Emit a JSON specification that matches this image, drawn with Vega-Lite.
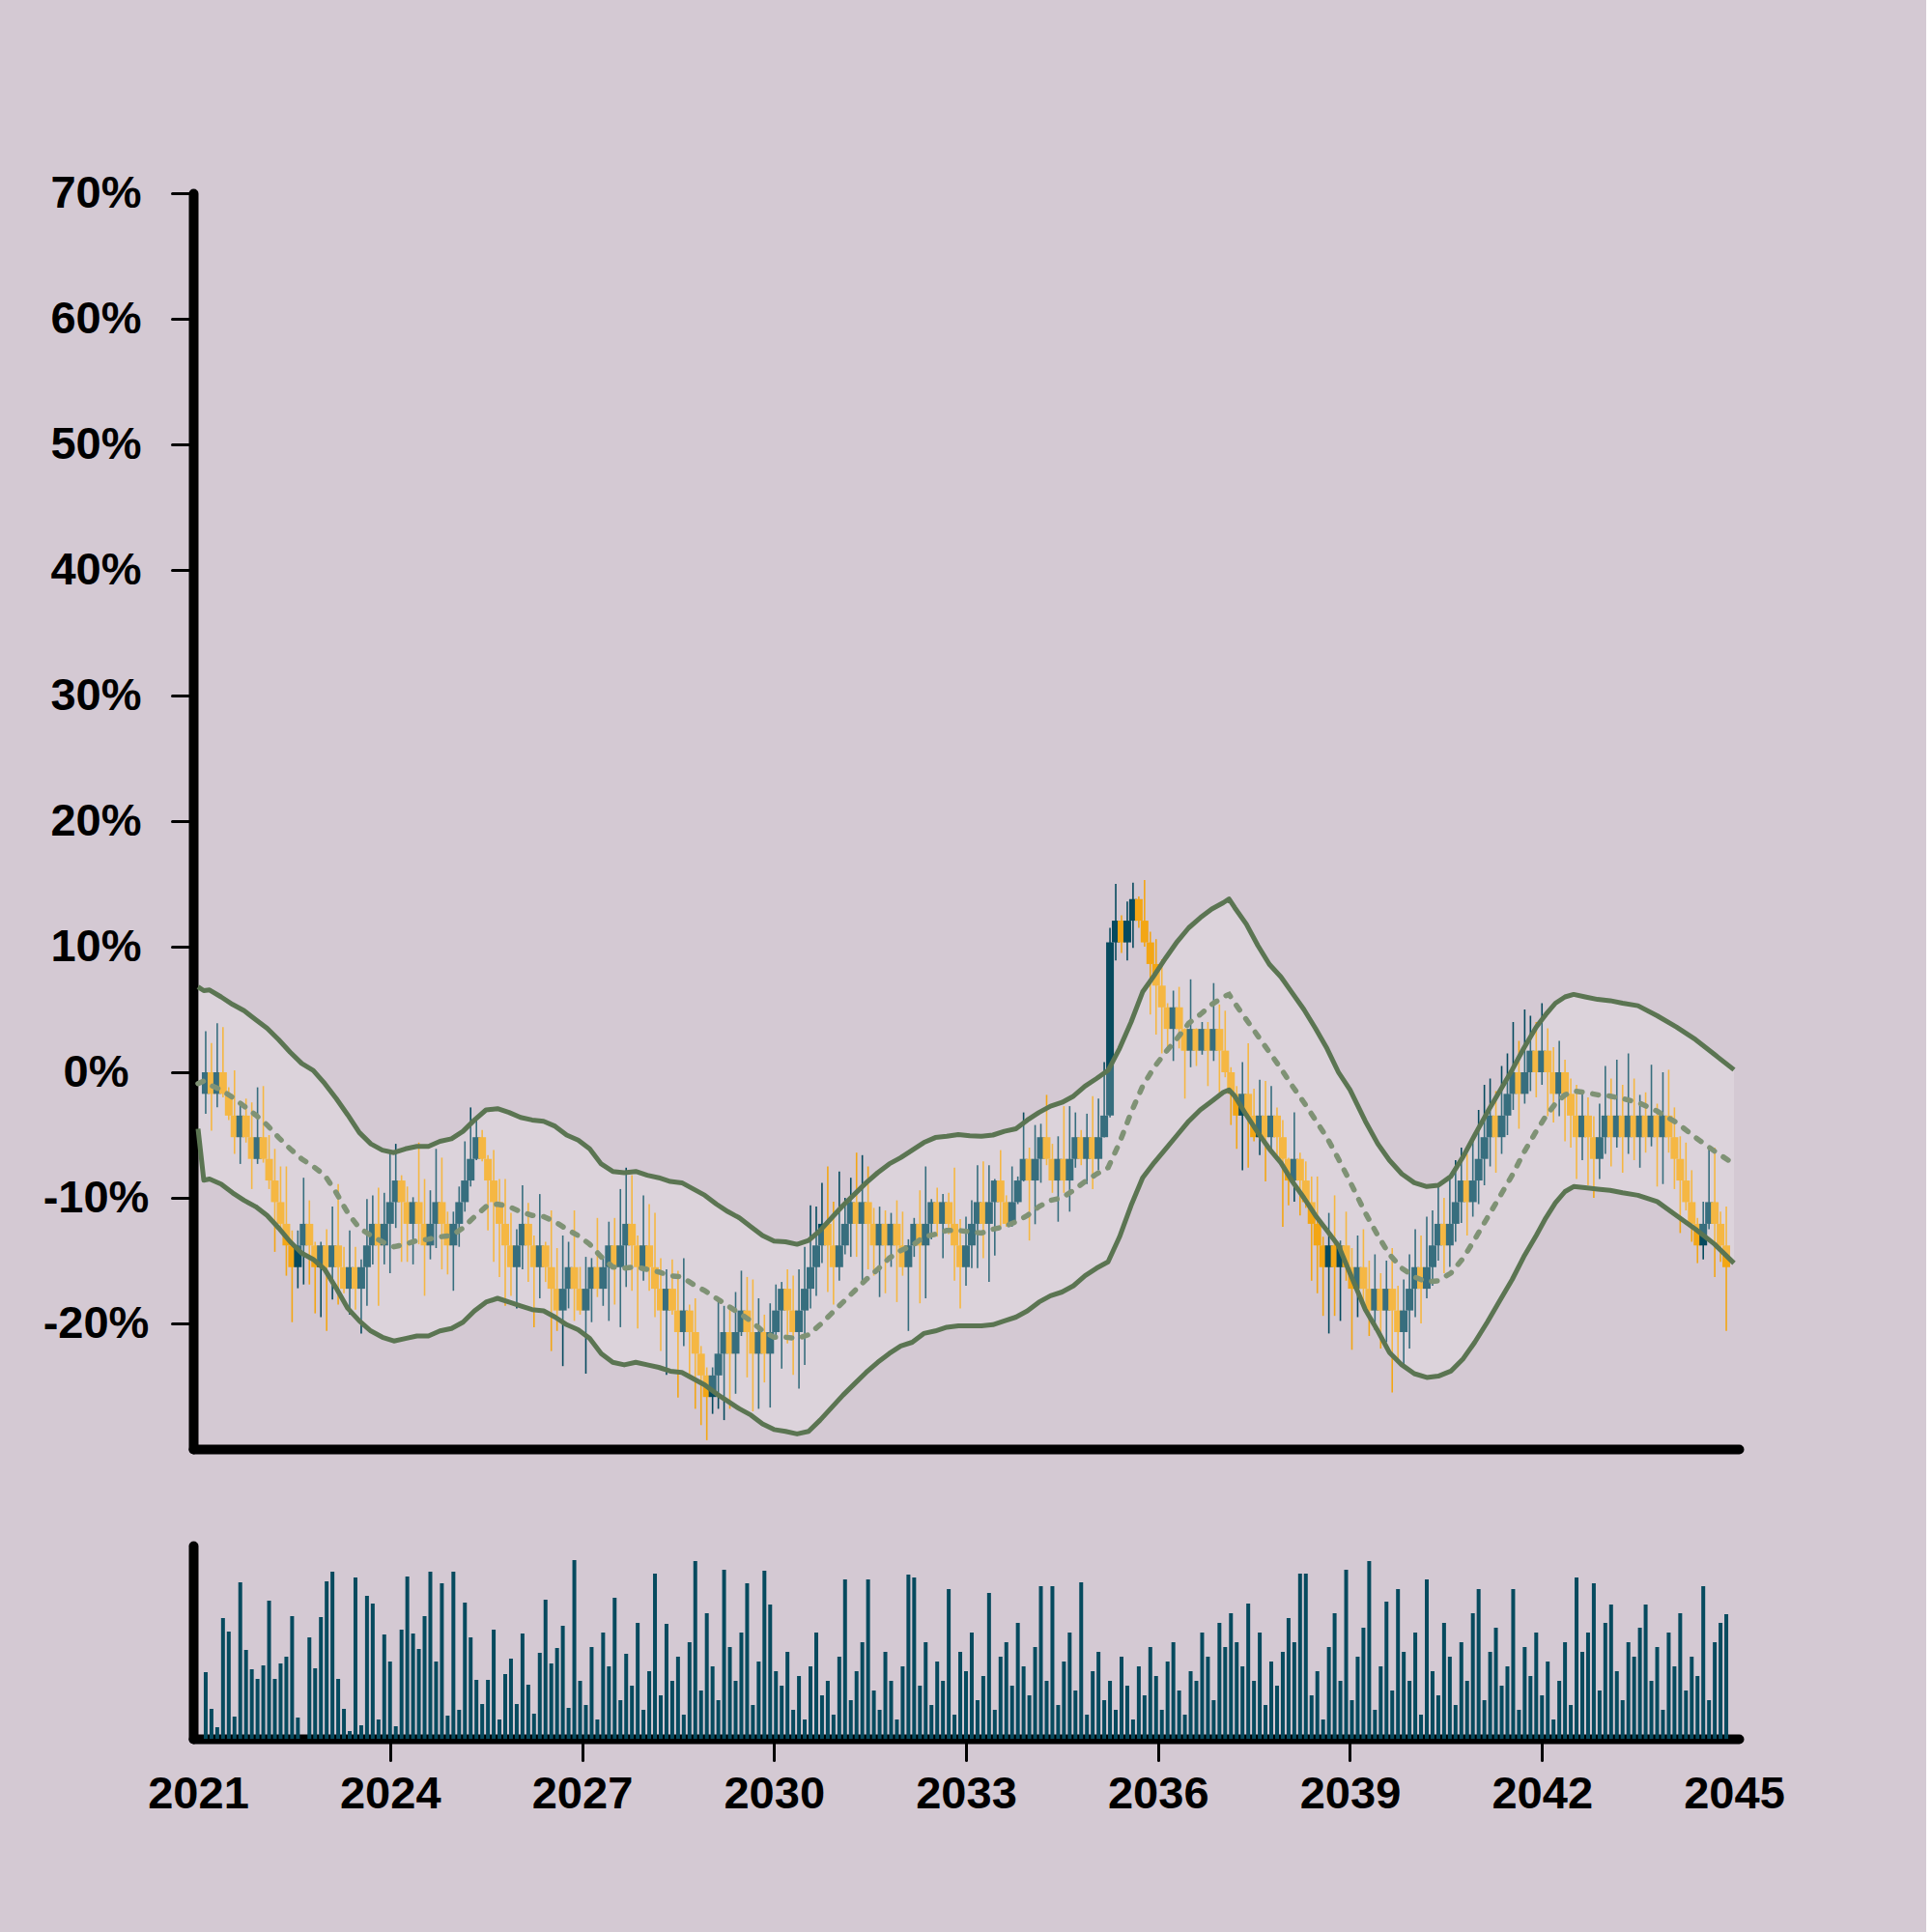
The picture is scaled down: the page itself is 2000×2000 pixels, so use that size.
{
"$schema": "https://vega.github.io/schema/vega-lite/v6.json",
"background": "#d4c9d3",
"padding": {"left": 44, "top": 176, "right": 146, "bottom": 120},
"bounds": "flush",
"spacing": 100,
"config": {
 "view": {"stroke": null},
 "axis": {"labelFont": "Liberation Sans", "labelFontSize": 47, "labelFontWeight": "bold", "labelColor": "#000000", "domainColor": "#000000", "domainWidth": 10, "domainCap": "round", "tickColor": "#000000", "tickWidth": 3, "tickSize": 22, "tickCap": "round", "grid": false, "title": null, "zindex": 1, "labelFlush": false}
},
"datasets": {
"ohlc": [
{"t":2021.12,"o":-1.72,"h":3.27,"l":-3.3,"c":0,"v":69},
{"t":2021.21,"o":0,"h":2.33,"l":-4.66,"c":-1.72,"v":31},
{"t":2021.30,"o":-1.72,"h":3.91,"l":-2.79,"c":0,"v":12},
{"t":2021.39,"o":0,"h":3.6,"l":-2.0,"c":-1.72,"v":125},
{"t":2021.48,"o":-1.72,"h":-1.2,"l":-3.8,"c":-3.45,"v":111},
{"t":2021.57,"o":-3.45,"h":0.15,"l":-6.5,"c":-5.17,"v":23},
{"t":2021.66,"o":-5.17,"h":-2.4,"l":-7.3,"c":-3.45,"v":162},
{"t":2021.75,"o":-3.45,"h":-2.1,"l":-5.6,"c":-5.17,"v":92},
{"t":2021.84,"o":-5.17,"h":-2.4,"l":-9.3,"c":-6.9,"v":72},
{"t":2021.93,"o":-6.9,"h":-1.2,"l":-7.3,"c":-5.17,"v":62},
{"t":2022.02,"o":-5.17,"h":-1.1,"l":-7.2,"c":-6.9,"v":76},
{"t":2022.11,"o":-6.9,"h":-5.0,"l":-9.3,"c":-8.62,"v":143},
{"t":2022.20,"o":-8.62,"h":-6.1,"l":-14.3,"c":-10.34,"v":62},
{"t":2022.29,"o":-10.34,"h":-7.5,"l":-12.5,"c":-12.07,"v":78},
{"t":2022.38,"o":-12.07,"h":-7.5,"l":-16.2,"c":-13.79,"v":85},
{"t":2022.47,"o":-13.79,"h":-12.6,"l":-19.9,"c":-15.52,"v":127},
{"t":2022.56,"o":-15.52,"h":-12.6,"l":-17.2,"c":-13.79,"v":22},
{"t":2022.65,"o":-13.79,"h":-8.4,"l":-16.9,"c":-12.07,"v":0},
{"t":2022.74,"o":-12.07,"h":-10.2,"l":-16.9,"c":-13.79,"v":105},
{"t":2022.83,"o":-13.79,"h":-13.5,"l":-19.2,"c":-15.52,"v":73},
{"t":2022.92,"o":-15.52,"h":-13.5,"l":-19.5,"c":-13.79,"v":126},
{"t":2023.01,"o":-13.79,"h":-12.5,"l":-20.6,"c":-15.52,"v":163},
{"t":2023.10,"o":-15.52,"h":-10.7,"l":-18.1,"c":-13.79,"v":173},
{"t":2023.19,"o":-13.79,"h":-8.9,"l":-18.5,"c":-15.52,"v":62},
{"t":2023.28,"o":-15.52,"h":-13.9,"l":-17.6,"c":-17.24,"v":31},
{"t":2023.37,"o":-17.24,"h":-12.6,"l":-19.3,"c":-15.52,"v":8},
{"t":2023.46,"o":-15.52,"h":-13.9,"l":-18.9,"c":-17.24,"v":167},
{"t":2023.55,"o":-17.24,"h":-14.9,"l":-20.8,"c":-15.52,"v":14},
{"t":2023.64,"o":-15.52,"h":-10.1,"l":-18.6,"c":-13.79,"v":148},
{"t":2023.73,"o":-13.79,"h":-9.8,"l":-15.3,"c":-12.07,"v":140},
{"t":2023.82,"o":-12.07,"h":-9.2,"l":-18.6,"c":-13.79,"v":20},
{"t":2023.91,"o":-13.79,"h":-9.6,"l":-15.3,"c":-12.07,"v":108},
{"t":2024.00,"o":-12.07,"h":-6.4,"l":-16.0,"c":-10.34,"v":80},
{"t":2024.09,"o":-10.34,"h":-5.7,"l":-12.4,"c":-8.62,"v":13},
{"t":2024.18,"o":-8.62,"h":-8.2,"l":-15.1,"c":-10.34,"v":113},
{"t":2024.27,"o":-10.34,"h":-9.1,"l":-15.1,"c":-12.07,"v":168},
{"t":2024.36,"o":-12.07,"h":-9.95,"l":-15.3,"c":-10.34,"v":109},
{"t":2024.45,"o":-10.34,"h":-5.6,"l":-13.7,"c":-12.07,"v":93},
{"t":2024.54,"o":-12.07,"h":-8.5,"l":-17.8,"c":-13.79,"v":127},
{"t":2024.63,"o":-13.79,"h":-9.4,"l":-14.9,"c":-12.07,"v":173},
{"t":2024.72,"o":-12.07,"h":-6.1,"l":-14.0,"c":-10.34,"v":80},
{"t":2024.81,"o":-10.34,"h":-6.8,"l":-15.7,"c":-12.07,"v":161},
{"t":2024.90,"o":-12.07,"h":-11.1,"l":-16.1,"c":-13.79,"v":24},
{"t":2024.99,"o":-13.79,"h":-11.1,"l":-17.4,"c":-12.07,"v":173},
{"t":2025.08,"o":-12.07,"h":-9.1,"l":-13.9,"c":-10.34,"v":30},
{"t":2025.17,"o":-10.34,"h":-5.5,"l":-11.1,"c":-8.62,"v":141},
{"t":2025.26,"o":-8.62,"h":-2.8,"l":-9.1,"c":-6.9,"v":105},
{"t":2025.35,"o":-6.9,"h":-3.7,"l":-7.0,"c":-5.17,"v":61},
{"t":2025.44,"o":-5.17,"h":-4.6,"l":-7.1,"c":-6.9,"v":36},
{"t":2025.53,"o":-6.9,"h":-6.6,"l":-12.6,"c":-8.62,"v":61},
{"t":2025.62,"o":-8.62,"h":-6.2,"l":-15.1,"c":-10.34,"v":113},
{"t":2025.71,"o":-10.34,"h":-8.5,"l":-16.3,"c":-12.07,"v":20},
{"t":2025.80,"o":-12.07,"h":-8.5,"l":-18.6,"c":-13.79,"v":67},
{"t":2025.89,"o":-13.79,"h":-11.2,"l":-17.8,"c":-15.52,"v":83},
{"t":2025.98,"o":-15.52,"h":-12.5,"l":-18.8,"c":-13.79,"v":36},
{"t":2026.07,"o":-13.79,"h":-9.0,"l":-15.7,"c":-12.07,"v":109},
{"t":2026.16,"o":-12.07,"h":-10.4,"l":-16.7,"c":-13.79,"v":56},
{"t":2026.25,"o":-13.79,"h":-13.0,"l":-20.3,"c":-15.52,"v":26},
{"t":2026.34,"o":-15.52,"h":-9.7,"l":-18.0,"c":-13.79,"v":89},
{"t":2026.43,"o":-13.79,"h":-13.5,"l":-16.7,"c":-15.52,"v":144},
{"t":2026.52,"o":-15.52,"h":-11.0,"l":-22.2,"c":-17.24,"v":78},
{"t":2026.61,"o":-17.24,"h":-14.0,"l":-20.6,"c":-18.97,"v":94},
{"t":2026.70,"o":-18.97,"h":-13.0,"l":-23.4,"c":-17.24,"v":117},
{"t":2026.79,"o":-17.24,"h":-13.5,"l":-18.8,"c":-15.52,"v":32},
{"t":2026.88,"o":-15.52,"h":-11.0,"l":-19.8,"c":-17.24,"v":185},
{"t":2026.97,"o":-17.24,"h":-15.5,"l":-19.3,"c":-18.97,"v":60},
{"t":2027.06,"o":-18.97,"h":-14.7,"l":-24.0,"c":-17.24,"v":35},
{"t":2027.15,"o":-17.24,"h":-14.8,"l":-19.9,"c":-15.52,"v":95},
{"t":2027.24,"o":-15.52,"h":-11.6,"l":-17.9,"c":-17.24,"v":20},
{"t":2027.33,"o":-17.24,"h":-14.7,"l":-18.6,"c":-15.52,"v":110},
{"t":2027.42,"o":-15.52,"h":-11.9,"l":-19.8,"c":-13.79,"v":75},
{"t":2027.51,"o":-13.79,"h":-11.6,"l":-18.5,"c":-15.52,"v":146},
{"t":2027.60,"o":-15.52,"h":-9.3,"l":-20.3,"c":-13.79,"v":40},
{"t":2027.69,"o":-13.79,"h":-7.6,"l":-17.1,"c":-12.07,"v":88},
{"t":2027.78,"o":-12.07,"h":-8.2,"l":-17.4,"c":-13.79,"v":55},
{"t":2027.87,"o":-13.79,"h":-13.0,"l":-20.4,"c":-15.52,"v":120},
{"t":2027.96,"o":-15.52,"h":-9.8,"l":-16.6,"c":-13.79,"v":30},
{"t":2028.05,"o":-13.79,"h":-10.5,"l":-17.4,"c":-15.52,"v":70},
{"t":2028.14,"o":-15.52,"h":-11.2,"l":-19.5,"c":-17.24,"v":171},
{"t":2028.23,"o":-17.24,"h":-14.8,"l":-22.2,"c":-18.97,"v":45},
{"t":2028.32,"o":-18.97,"h":-15.7,"l":-24.1,"c":-17.24,"v":119},
{"t":2028.41,"o":-17.24,"h":-14.9,"l":-19.3,"c":-18.97,"v":60},
{"t":2028.50,"o":-18.97,"h":-15.8,"l":-25.9,"c":-20.69,"v":85},
{"t":2028.59,"o":-20.69,"h":-14.8,"l":-21.8,"c":-18.97,"v":25},
{"t":2028.68,"o":-18.97,"h":-18.5,"l":-24.4,"c":-20.69,"v":100},
{"t":2028.77,"o":-20.69,"h":-18.0,"l":-26.8,"c":-22.41,"v":184},
{"t":2028.86,"o":-22.41,"h":-21.8,"l":-28.1,"c":-24.14,"v":50},
{"t":2028.95,"o":-24.14,"h":-23.5,"l":-29.3,"c":-25.86,"v":130},
{"t":2029.04,"o":-25.86,"h":-23.5,"l":-27.2,"c":-24.14,"v":75},
{"t":2029.13,"o":-24.14,"h":-18.3,"l":-26.8,"c":-22.41,"v":40},
{"t":2029.22,"o":-22.41,"h":-18.6,"l":-27.7,"c":-20.69,"v":175},
{"t":2029.31,"o":-20.69,"h":-18.8,"l":-26.8,"c":-22.41,"v":95},
{"t":2029.40,"o":-22.41,"h":-17.5,"l":-25.6,"c":-20.69,"v":60},
{"t":2029.49,"o":-20.69,"h":-15.8,"l":-21.0,"c":-18.97,"v":110},
{"t":2029.58,"o":-18.97,"h":-16.3,"l":-24.3,"c":-20.69,"v":161},
{"t":2029.67,"o":-20.69,"h":-16.5,"l":-27.0,"c":-22.41,"v":35},
{"t":2029.76,"o":-22.41,"h":-18.0,"l":-26.8,"c":-20.69,"v":80},
{"t":2029.85,"o":-20.69,"h":-19.3,"l":-24.7,"c":-22.41,"v":174},
{"t":2029.94,"o":-22.41,"h":-18.4,"l":-26.7,"c":-20.69,"v":139},
{"t":2030.03,"o":-20.69,"h":-16.9,"l":-21.0,"c":-18.97,"v":70},
{"t":2030.12,"o":-18.97,"h":-16.7,"l":-23.6,"c":-17.24,"v":55},
{"t":2030.21,"o":-17.24,"h":-15.7,"l":-21.6,"c":-18.97,"v":90},
{"t":2030.30,"o":-18.97,"h":-16.2,"l":-24.1,"c":-20.69,"v":30},
{"t":2030.39,"o":-20.69,"h":-15.7,"l":-25.2,"c":-18.97,"v":65},
{"t":2030.48,"o":-18.97,"h":-13.9,"l":-23.3,"c":-17.24,"v":20},
{"t":2030.57,"o":-17.24,"h":-10.6,"l":-18.8,"c":-15.52,"v":75},
{"t":2030.66,"o":-15.52,"h":-10.7,"l":-17.8,"c":-13.79,"v":110},
{"t":2030.75,"o":-13.79,"h":-8.8,"l":-15.2,"c":-12.07,"v":45},
{"t":2030.84,"o":-12.07,"h":-7.5,"l":-17.5,"c":-13.79,"v":60},
{"t":2030.93,"o":-13.79,"h":-10.3,"l":-18.5,"c":-15.52,"v":25},
{"t":2031.02,"o":-15.52,"h":-7.9,"l":-16.6,"c":-13.79,"v":85},
{"t":2031.11,"o":-13.79,"h":-10.0,"l":-14.5,"c":-12.07,"v":165},
{"t":2031.20,"o":-12.07,"h":-8.4,"l":-14.7,"c":-10.34,"v":40},
{"t":2031.29,"o":-10.34,"h":-6.4,"l":-14.7,"c":-12.07,"v":70},
{"t":2031.38,"o":-12.07,"h":-6.6,"l":-16.9,"c":-10.34,"v":100},
{"t":2031.47,"o":-10.34,"h":-7.5,"l":-15.7,"c":-12.07,"v":165},
{"t":2031.56,"o":-12.07,"h":-10.8,"l":-16.2,"c":-13.79,"v":50},
{"t":2031.65,"o":-13.79,"h":-10.7,"l":-17.9,"c":-12.07,"v":30},
{"t":2031.74,"o":-12.07,"h":-11.0,"l":-17.6,"c":-13.79,"v":90},
{"t":2031.83,"o":-13.79,"h":-11.2,"l":-15.5,"c":-12.07,"v":60},
{"t":2031.92,"o":-12.07,"h":-10.2,"l":-18.3,"c":-13.79,"v":20},
{"t":2032.01,"o":-13.79,"h":-11.1,"l":-16.2,"c":-15.52,"v":75},
{"t":2032.10,"o":-15.52,"h":-13.3,"l":-20.6,"c":-13.79,"v":170},
{"t":2032.19,"o":-13.79,"h":-11.6,"l":-14.7,"c":-12.07,"v":167},
{"t":2032.28,"o":-12.07,"h":-9.4,"l":-18.4,"c":-13.79,"v":55},
{"t":2032.37,"o":-13.79,"h":-7.5,"l":-18.0,"c":-12.07,"v":100},
{"t":2032.46,"o":-12.07,"h":-10.1,"l":-13.3,"c":-10.34,"v":35},
{"t":2032.55,"o":-10.34,"h":-9.2,"l":-13.1,"c":-12.07,"v":80},
{"t":2032.64,"o":-12.07,"h":-9.7,"l":-14.8,"c":-10.34,"v":60},
{"t":2032.73,"o":-10.34,"h":-9.6,"l":-12.9,"c":-12.07,"v":155},
{"t":2032.82,"o":-12.07,"h":-7.6,"l":-16.6,"c":-13.79,"v":25},
{"t":2032.91,"o":-13.79,"h":-11.7,"l":-18.8,"c":-15.52,"v":90},
{"t":2033.00,"o":-15.52,"h":-11.5,"l":-17.0,"c":-13.79,"v":70},
{"t":2033.09,"o":-13.79,"h":-10.2,"l":-15.6,"c":-12.07,"v":110},
{"t":2033.18,"o":-12.07,"h":-7.4,"l":-15.6,"c":-10.34,"v":40},
{"t":2033.27,"o":-10.34,"h":-7.1,"l":-14.8,"c":-12.07,"v":65},
{"t":2033.36,"o":-12.07,"h":-7.4,"l":-16.7,"c":-10.34,"v":151},
{"t":2033.45,"o":-10.34,"h":-8.5,"l":-14.6,"c":-8.62,"v":30},
{"t":2033.54,"o":-8.62,"h":-6.2,"l":-12.3,"c":-10.34,"v":85},
{"t":2033.63,"o":-10.34,"h":-9.8,"l":-12.3,"c":-12.07,"v":100},
{"t":2033.72,"o":-12.07,"h":-7.5,"l":-12.3,"c":-10.34,"v":55},
{"t":2033.81,"o":-10.34,"h":-8.3,"l":-10.5,"c":-8.62,"v":120},
{"t":2033.90,"o":-8.62,"h":-3.2,"l":-8.7,"c":-6.9,"v":75},
{"t":2033.99,"o":-6.9,"h":-6.0,"l":-13.4,"c":-8.62,"v":45},
{"t":2034.08,"o":-8.62,"h":-4.2,"l":-12.1,"c":-6.9,"v":95},
{"t":2034.17,"o":-6.9,"h":-4.1,"l":-8.8,"c":-5.17,"v":158},
{"t":2034.26,"o":-5.17,"h":-1.8,"l":-7.4,"c":-6.9,"v":60},
{"t":2034.35,"o":-6.9,"h":-5.7,"l":-9.6,"c":-8.62,"v":158},
{"t":2034.44,"o":-8.62,"h":-5.1,"l":-11.9,"c":-6.9,"v":35},
{"t":2034.53,"o":-6.9,"h":-2.7,"l":-9.6,"c":-8.62,"v":80},
{"t":2034.62,"o":-8.62,"h":-2.7,"l":-11.1,"c":-6.9,"v":110},
{"t":2034.71,"o":-6.9,"h":-3.2,"l":-7.6,"c":-5.17,"v":50},
{"t":2034.80,"o":-5.17,"h":-4.6,"l":-7.4,"c":-6.9,"v":162},
{"t":2034.89,"o":-6.9,"h":-3.3,"l":-8.9,"c":-5.17,"v":25},
{"t":2034.98,"o":-5.17,"h":-1.9,"l":-9.3,"c":-6.9,"v":70},
{"t":2035.07,"o":-6.9,"h":-2.1,"l":-7.8,"c":-5.17,"v":90},
{"t":2035.16,"o":-5.17,"h":0.8,"l":-5.2,"c":-3.45,"v":40},
{"t":2035.25,"o":-3.45,"h":11.5,"l":-3.6,"c":10.34,"v":60},
{"t":2035.34,"o":10.34,"h":15.0,"l":8.9,"c":12.07,"v":30},
{"t":2035.43,"o":12.07,"h":12.5,"l":9.5,"c":10.34,"v":85},
{"t":2035.52,"o":10.34,"h":13.6,"l":8.9,"c":12.07,"v":55},
{"t":2035.61,"o":12.07,"h":15.1,"l":9.9,"c":13.79,"v":20},
{"t":2035.70,"o":13.79,"h":14.0,"l":11.5,"c":12.07,"v":75},
{"t":2035.79,"o":12.07,"h":15.3,"l":10.0,"c":10.34,"v":45},
{"t":2035.88,"o":10.34,"h":11.2,"l":4.6,"c":8.62,"v":95},
{"t":2035.97,"o":8.62,"h":10.6,"l":3.0,"c":6.9,"v":65},
{"t":2036.06,"o":6.9,"h":9.0,"l":1.5,"c":5.17,"v":30},
{"t":2036.15,"o":5.17,"h":5.5,"l":1.9,"c":3.45,"v":80},
{"t":2036.24,"o":3.45,"h":6.5,"l":0.9,"c":5.17,"v":100},
{"t":2036.33,"o":5.17,"h":6.8,"l":1.9,"c":3.45,"v":50},
{"t":2036.42,"o":3.45,"h":3.5,"l":-2.1,"c":1.72,"v":25},
{"t":2036.51,"o":1.72,"h":7.4,"l":0.4,"c":3.45,"v":70},
{"t":2036.60,"o":3.45,"h":3.5,"l":0.5,"c":1.72,"v":60},
{"t":2036.69,"o":1.72,"h":4.0,"l":1.4,"c":3.45,"v":110},
{"t":2036.78,"o":3.45,"h":4.0,"l":-1.1,"c":1.72,"v":85},
{"t":2036.87,"o":1.72,"h":7.1,"l":0.9,"c":3.45,"v":40},
{"t":2036.96,"o":3.45,"h":5.4,"l":-1.6,"c":1.72,"v":120},
{"t":2037.05,"o":1.72,"h":4.9,"l":-0.4,"c":0,"v":95},
{"t":2037.14,"o":0,"h":0.4,"l":-4.2,"c":-1.72,"v":130},
{"t":2037.23,"o":-1.72,"h":-1.1,"l":-6.1,"c":-3.45,"v":100},
{"t":2037.32,"o":-3.45,"h":0.8,"l":-7.8,"c":-1.72,"v":75},
{"t":2037.41,"o":-1.72,"h":2.3,"l":-7.6,"c":-3.45,"v":140},
{"t":2037.50,"o":-3.45,"h":-1.3,"l":-5.5,"c":-5.17,"v":60},
{"t":2037.59,"o":-5.17,"h":-0.6,"l":-6.6,"c":-3.45,"v":110},
{"t":2037.68,"o":-3.45,"h":-0.7,"l":-8.7,"c":-5.17,"v":35},
{"t":2037.77,"o":-5.17,"h":-1.1,"l":-6.4,"c":-3.45,"v":80},
{"t":2037.86,"o":-3.45,"h":-2.8,"l":-6.6,"c":-5.17,"v":55},
{"t":2037.95,"o":-5.17,"h":-3.8,"l":-12.3,"c":-6.9,"v":90},
{"t":2038.04,"o":-6.9,"h":-6.8,"l":-10.6,"c":-8.62,"v":125},
{"t":2038.13,"o":-8.62,"h":-3.2,"l":-10.3,"c":-6.9,"v":100},
{"t":2038.22,"o":-6.9,"h":-6.4,"l":-11.4,"c":-8.62,"v":171},
{"t":2038.31,"o":-8.62,"h":-7.1,"l":-10.8,"c":-10.34,"v":171},
{"t":2038.40,"o":-10.34,"h":-8.3,"l":-16.6,"c":-12.07,"v":45},
{"t":2038.49,"o":-12.07,"h":-8.3,"l":-17.6,"c":-13.79,"v":70},
{"t":2038.58,"o":-13.79,"h":-13.1,"l":-19.4,"c":-15.52,"v":20},
{"t":2038.67,"o":-15.52,"h":-11.2,"l":-20.8,"c":-13.79,"v":95},
{"t":2038.76,"o":-13.79,"h":-9.8,"l":-19.4,"c":-15.52,"v":130},
{"t":2038.85,"o":-15.52,"h":-13.4,"l":-19.8,"c":-13.79,"v":60},
{"t":2038.94,"o":-13.79,"h":-11.1,"l":-16.6,"c":-15.52,"v":175},
{"t":2039.03,"o":-15.52,"h":-14.0,"l":-22.1,"c":-17.24,"v":40},
{"t":2039.12,"o":-17.24,"h":-13.0,"l":-19.5,"c":-15.52,"v":85},
{"t":2039.21,"o":-15.52,"h":-12.5,"l":-18.5,"c":-17.24,"v":115},
{"t":2039.30,"o":-17.24,"h":-15.0,"l":-21.0,"c":-18.97,"v":184},
{"t":2039.39,"o":-18.97,"h":-14.5,"l":-20.5,"c":-17.24,"v":30},
{"t":2039.48,"o":-17.24,"h":-16.0,"l":-22.0,"c":-18.97,"v":75},
{"t":2039.57,"o":-18.97,"h":-15.0,"l":-21.5,"c":-17.24,"v":142},
{"t":2039.66,"o":-17.24,"h":-14.0,"l":-25.5,"c":-18.97,"v":50},
{"t":2039.75,"o":-18.97,"h":-17.0,"l":-23.0,"c":-20.69,"v":155},
{"t":2039.84,"o":-20.69,"h":-16.5,"l":-23.5,"c":-18.97,"v":90},
{"t":2039.93,"o":-18.97,"h":-14.5,"l":-22.0,"c":-17.24,"v":60},
{"t":2040.02,"o":-17.24,"h":-12.5,"l":-19.5,"c":-15.52,"v":110},
{"t":2040.11,"o":-15.52,"h":-13.0,"l":-20.0,"c":-17.24,"v":25},
{"t":2040.20,"o":-17.24,"h":-11.5,"l":-18.0,"c":-15.52,"v":165},
{"t":2040.29,"o":-15.52,"h":-11.0,"l":-17.0,"c":-13.79,"v":70},
{"t":2040.38,"o":-13.79,"h":-9.0,"l":-15.0,"c":-12.07,"v":45},
{"t":2040.47,"o":-12.07,"h":-10.0,"l":-16.0,"c":-13.79,"v":120},
{"t":2040.56,"o":-13.79,"h":-8.5,"l":-15.5,"c":-12.07,"v":85},
{"t":2040.65,"o":-12.07,"h":-7.0,"l":-13.5,"c":-10.34,"v":35},
{"t":2040.74,"o":-10.34,"h":-6.0,"l":-12.0,"c":-8.62,"v":100},
{"t":2040.83,"o":-8.62,"h":-6.5,"l":-13.0,"c":-10.34,"v":60},
{"t":2040.92,"o":-10.34,"h":-5.5,"l":-11.5,"c":-8.62,"v":130},
{"t":2041.01,"o":-8.62,"h":-3.0,"l":-10.5,"c":-6.9,"v":155},
{"t":2041.10,"o":-6.9,"h":-1.0,"l":-9.0,"c":-5.17,"v":40},
{"t":2041.19,"o":-5.17,"h":-0.5,"l":-7.5,"c":-3.45,"v":90},
{"t":2041.28,"o":-3.45,"h":-1.5,"l":-8.0,"c":-5.17,"v":115},
{"t":2041.37,"o":-5.17,"h":0.5,"l":-6.5,"c":-3.45,"v":55},
{"t":2041.46,"o":-3.45,"h":1.5,"l":-5.0,"c":-1.72,"v":75},
{"t":2041.55,"o":-1.72,"h":4.0,"l":-3.0,"c":0,"v":155},
{"t":2041.64,"o":0,"h":2.5,"l":-4.5,"c":-1.72,"v":30},
{"t":2041.73,"o":-1.72,"h":5.0,"l":-2.5,"c":0,"v":95},
{"t":2041.82,"o":0,"h":4.5,"l":-1.5,"c":1.72,"v":65},
{"t":2041.91,"o":1.72,"h":4.0,"l":-2.0,"c":0,"v":110},
{"t":2042.00,"o":0,"h":5.5,"l":-1.0,"c":1.72,"v":45},
{"t":2042.09,"o":1.72,"h":3.5,"l":-3.5,"c":0,"v":80},
{"t":2042.18,"o":0,"h":2.0,"l":-4.0,"c":-1.72,"v":20},
{"t":2042.27,"o":-1.72,"h":2.5,"l":-3.5,"c":0,"v":60},
{"t":2042.36,"o":0,"h":1.0,"l":-5.5,"c":-1.72,"v":100},
{"t":2042.45,"o":-1.72,"h":-0.5,"l":-6.0,"c":-3.45,"v":35},
{"t":2042.54,"o":-3.45,"h":-1.0,"l":-8.5,"c":-5.17,"v":167},
{"t":2042.63,"o":-5.17,"h":-1.5,"l":-7.0,"c":-3.45,"v":90},
{"t":2042.72,"o":-3.45,"h":-2.0,"l":-9.0,"c":-5.17,"v":110},
{"t":2042.81,"o":-5.17,"h":-3.5,"l":-10.0,"c":-6.9,"v":161},
{"t":2042.90,"o":-6.9,"h":-2.5,"l":-8.5,"c":-5.17,"v":50},
{"t":2042.99,"o":-5.17,"h":0.5,"l":-6.5,"c":-3.45,"v":120},
{"t":2043.08,"o":-3.45,"h":-0.5,"l":-7.5,"c":-5.17,"v":139},
{"t":2043.17,"o":-5.17,"h":1.0,"l":-6.0,"c":-3.45,"v":70},
{"t":2043.26,"o":-3.45,"h":-1.0,"l":-8.0,"c":-5.17,"v":40},
{"t":2043.35,"o":-5.17,"h":1.5,"l":-6.5,"c":-3.45,"v":100},
{"t":2043.44,"o":-3.45,"h":-0.5,"l":-7.0,"c":-5.17,"v":85},
{"t":2043.53,"o":-5.17,"h":-1.8,"l":-7.6,"c":-3.45,"v":115},
{"t":2043.62,"o":-3.45,"h":-1.6,"l":-6.4,"c":-5.17,"v":139},
{"t":2043.71,"o":-5.17,"h":0.6,"l":-5.9,"c":-3.45,"v":60},
{"t":2043.80,"o":-3.45,"h":-2.5,"l":-9.1,"c":-5.17,"v":95},
{"t":2043.89,"o":-5.17,"h":0.0,"l":-8.9,"c":-3.45,"v":30},
{"t":2043.98,"o":-3.45,"h":0.2,"l":-6.4,"c":-5.17,"v":110},
{"t":2044.07,"o":-5.17,"h":-2.8,"l":-9.3,"c":-6.9,"v":75},
{"t":2044.16,"o":-6.9,"h":-5.1,"l":-12.8,"c":-8.62,"v":130},
{"t":2044.25,"o":-8.62,"h":-5.6,"l":-11.0,"c":-10.34,"v":50},
{"t":2044.34,"o":-10.34,"h":-7.8,"l":-13.5,"c":-12.07,"v":85},
{"t":2044.43,"o":-12.07,"h":-11.6,"l":-15.2,"c":-13.79,"v":65},
{"t":2044.52,"o":-13.79,"h":-10.3,"l":-14.9,"c":-12.07,"v":158},
{"t":2044.61,"o":-12.07,"h":-6.0,"l":-12.5,"c":-10.34,"v":40},
{"t":2044.70,"o":-10.34,"h":-6.0,"l":-16.3,"c":-12.07,"v":100},
{"t":2044.79,"o":-12.07,"h":-11.1,"l":-15.1,"c":-13.79,"v":120},
{"t":2044.88,"o":-13.79,"h":-10.7,"l":-20.6,"c":-15.52,"v":129}
],
"bands": [
{"t":2021.00,"u":6.8,"m":-0.9,"lo":-4.5},
{"t":2021.09,"u":6.5,"m":-0.7,"lo":-8.6},
{"t":2021.18,"u":6.55,"m":-1.0,"lo":-8.5},
{"t":2021.36,"u":6.0,"m":-1.4,"lo":-8.9},
{"t":2021.54,"u":5.4,"m":-2.0,"lo":-9.6},
{"t":2021.72,"u":4.9,"m":-2.7,"lo":-10.2},
{"t":2021.90,"u":4.2,"m":-3.4,"lo":-10.7},
{"t":2022.08,"u":3.5,"m":-4.2,"lo":-11.4},
{"t":2022.26,"u":2.6,"m":-5.2,"lo":-12.4},
{"t":2022.44,"u":1.6,"m":-6.1,"lo":-13.5},
{"t":2022.62,"u":0.7,"m":-6.9,"lo":-14.4},
{"t":2022.80,"u":0.15,"m":-7.5,"lo":-14.9},
{"t":2022.98,"u":-0.9,"m":-8.2,"lo":-15.7},
{"t":2023.16,"u":-2.1,"m":-9.6,"lo":-17.2},
{"t":2023.34,"u":-3.4,"m":-11.2,"lo":-18.8},
{"t":2023.52,"u":-4.8,"m":-12.4,"lo":-19.8},
{"t":2023.70,"u":-5.7,"m":-13.0,"lo":-20.6},
{"t":2023.88,"u":-6.2,"m":-13.5,"lo":-21.1},
{"t":2024.06,"u":-6.4,"m":-13.9,"lo":-21.4},
{"t":2024.24,"u":-6.1,"m":-13.7,"lo":-21.2},
{"t":2024.42,"u":-5.9,"m":-13.4,"lo":-21.0},
{"t":2024.60,"u":-5.9,"m":-13.3,"lo":-21.0},
{"t":2024.78,"u":-5.5,"m":-13.1,"lo":-20.6},
{"t":2024.96,"u":-5.3,"m":-13.0,"lo":-20.4},
{"t":2025.14,"u":-4.7,"m":-12.4,"lo":-19.9},
{"t":2025.32,"u":-3.8,"m":-11.5,"lo":-19.0},
{"t":2025.50,"u":-3.0,"m":-10.7,"lo":-18.3},
{"t":2025.68,"u":-2.9,"m":-10.5,"lo":-18.0},
{"t":2025.86,"u":-3.2,"m":-10.7,"lo":-18.3},
{"t":2026.04,"u":-3.6,"m":-11.1,"lo":-18.6},
{"t":2026.22,"u":-3.8,"m":-11.4,"lo":-18.9},
{"t":2026.40,"u":-3.9,"m":-11.5,"lo":-19.0},
{"t":2026.58,"u":-4.3,"m":-11.9,"lo":-19.5},
{"t":2026.76,"u":-5.0,"m":-12.5,"lo":-20.1},
{"t":2026.94,"u":-5.4,"m":-13.0,"lo":-20.5},
{"t":2027.12,"u":-6.1,"m":-13.7,"lo":-21.2},
{"t":2027.30,"u":-7.3,"m":-14.7,"lo":-22.4},
{"t":2027.48,"u":-7.9,"m":-15.5,"lo":-23.1},
{"t":2027.66,"u":-8.0,"m":-15.6,"lo":-23.3},
{"t":2027.84,"u":-7.9,"m":-15.5,"lo":-23.1},
{"t":2028.02,"u":-8.2,"m":-15.7,"lo":-23.3},
{"t":2028.20,"u":-8.4,"m":-15.9,"lo":-23.5},
{"t":2028.38,"u":-8.7,"m":-16.2,"lo":-23.8},
{"t":2028.56,"u":-8.8,"m":-16.3,"lo":-23.9},
{"t":2028.74,"u":-9.3,"m":-16.9,"lo":-24.4},
{"t":2028.92,"u":-9.8,"m":-17.4,"lo":-24.9},
{"t":2029.10,"u":-10.5,"m":-18.0,"lo":-25.6},
{"t":2029.28,"u":-11.1,"m":-18.6,"lo":-26.2},
{"t":2029.46,"u":-11.6,"m":-19.2,"lo":-26.8},
{"t":2029.64,"u":-12.3,"m":-19.8,"lo":-27.3},
{"t":2029.82,"u":-13.0,"m":-20.6,"lo":-28.0},
{"t":2030.00,"u":-13.45,"m":-21.1,"lo":-28.45},
{"t":2030.18,"u":-13.5,"m":-21.1,"lo":-28.6},
{"t":2030.36,"u":-13.7,"m":-21.2,"lo":-28.8},
{"t":2030.54,"u":-13.4,"m":-20.9,"lo":-28.6},
{"t":2030.72,"u":-12.6,"m":-20.1,"lo":-27.7},
{"t":2030.90,"u":-11.6,"m":-19.2,"lo":-26.7},
{"t":2031.08,"u":-10.6,"m":-18.3,"lo":-25.7},
{"t":2031.26,"u":-9.7,"m":-17.4,"lo":-24.8},
{"t":2031.44,"u":-8.8,"m":-16.5,"lo":-23.9},
{"t":2031.62,"u":-8.0,"m":-15.7,"lo":-23.1},
{"t":2031.80,"u":-7.3,"m":-14.8,"lo":-22.4},
{"t":2031.98,"u":-6.8,"m":-14.2,"lo":-21.8},
{"t":2032.16,"u":-6.2,"m":-13.8,"lo":-21.5},
{"t":2032.34,"u":-5.6,"m":-13.1,"lo":-20.8},
{"t":2032.52,"u":-5.2,"m":-12.9,"lo":-20.6},
{"t":2032.70,"u":-5.1,"m":-12.6,"lo":-20.3},
{"t":2032.88,"u":-4.96,"m":-12.6,"lo":-20.2},
{"t":2033.06,"u":-5.05,"m":-12.7,"lo":-20.2},
{"t":2033.24,"u":-5.1,"m":-12.8,"lo":-20.2},
{"t":2033.42,"u":-5.0,"m":-12.5,"lo":-20.1},
{"t":2033.60,"u":-4.7,"m":-12.3,"lo":-19.8},
{"t":2033.78,"u":-4.5,"m":-11.9,"lo":-19.5},
{"t":2033.96,"u":-3.8,"m":-11.4,"lo":-19.0},
{"t":2034.14,"u":-3.2,"m":-10.7,"lo":-18.3},
{"t":2034.32,"u":-2.7,"m":-10.2,"lo":-17.8},
{"t":2034.50,"u":-2.4,"m":-10.0,"lo":-17.5},
{"t":2034.68,"u":-1.9,"m":-9.4,"lo":-17.0},
{"t":2034.86,"u":-1.1,"m":-8.7,"lo":-16.2},
{"t":2035.04,"u":-0.5,"m":-8.1,"lo":-15.6},
{"t":2035.22,"u":0.15,"m":-7.6,"lo":-15.1},
{"t":2035.40,"u":1.9,"m":-5.6,"lo":-13.1},
{"t":2035.58,"u":4.0,"m":-3.2,"lo":-10.6},
{"t":2035.76,"u":6.4,"m":-1.1,"lo":-8.4},
{"t":2035.94,"u":7.7,"m":0.4,"lo":-7.2},
{"t":2036.12,"u":9.1,"m":1.6,"lo":-6.1},
{"t":2036.30,"u":10.4,"m":2.7,"lo":-5.0},
{"t":2036.48,"u":11.5,"m":3.9,"lo":-3.9},
{"t":2036.66,"u":12.3,"m":4.6,"lo":-3.0},
{"t":2036.84,"u":13.0,"m":5.4,"lo":-2.3},
{"t":2037.02,"u":13.5,"m":6.0,"lo":-1.6},
{"t":2037.11,"u":13.8,"m":6.2,"lo":-1.4},
{"t":2037.20,"u":13.1,"m":5.5,"lo":-1.9},
{"t":2037.38,"u":11.8,"m":4.2,"lo":-3.4},
{"t":2037.56,"u":10.1,"m":2.9,"lo":-4.8},
{"t":2037.74,"u":8.6,"m":1.6,"lo":-6.1},
{"t":2037.92,"u":7.6,"m":0.3,"lo":-7.2},
{"t":2038.10,"u":6.3,"m":-1.1,"lo":-8.7},
{"t":2038.28,"u":5.0,"m":-2.4,"lo":-10.0},
{"t":2038.46,"u":3.5,"m":-3.8,"lo":-11.4},
{"t":2038.64,"u":1.9,"m":-5.2,"lo":-12.6},
{"t":2038.82,"u":0.0,"m":-6.9,"lo":-13.8},
{"t":2039.00,"u":-1.4,"m":-8.7,"lo":-16.0},
{"t":2039.24,"u":-3.9,"m":-11.2,"lo":-18.9},
{"t":2039.435,"u":-5.7,"m":-13.0,"lo":-20.6},
{"t":2039.615,"u":-7.0,"m":-14.5,"lo":-22.3},
{"t":2039.81,"u":-8.1,"m":-15.6,"lo":-23.3},
{"t":2040.005,"u":-8.8,"m":-16.3,"lo":-24.0},
{"t":2040.20,"u":-9.1,"m":-16.7,"lo":-24.3},
{"t":2040.38,"u":-9.0,"m":-16.6,"lo":-24.2},
{"t":2040.575,"u":-8.3,"m":-16.0,"lo":-23.8},
{"t":2040.77,"u":-6.7,"m":-14.8,"lo":-22.8},
{"t":2040.95,"u":-5.0,"m":-13.3,"lo":-21.5},
{"t":2041.145,"u":-3.2,"m":-11.6,"lo":-19.9},
{"t":2041.34,"u":-1.5,"m":-9.9,"lo":-18.2},
{"t":2041.535,"u":0.2,"m":-8.2,"lo":-16.5},
{"t":2041.715,"u":1.9,"m":-6.4,"lo":-14.7},
{"t":2041.91,"u":3.6,"m":-4.7,"lo":-13.0},
{"t":2042.06,"u":4.6,"m":-3.5,"lo":-11.6},
{"t":2042.21,"u":5.5,"m":-2.5,"lo":-10.4},
{"t":2042.36,"u":6.0,"m":-1.8,"lo":-9.5},
{"t":2042.495,"u":6.2,"m":-1.5,"lo":-9.1},
{"t":2042.675,"u":6.0,"m":-1.6,"lo":-9.2},
{"t":2042.87,"u":5.8,"m":-1.8,"lo":-9.3},
{"t":2043.065,"u":5.7,"m":-1.9,"lo":-9.4},
{"t":2043.26,"u":5.5,"m":-2.1,"lo":-9.6},
{"t":2043.50,"u":5.3,"m":-2.4,"lo":-9.8},
{"t":2043.80,"u":4.5,"m":-3.1,"lo":-10.3},
{"t":2044.10,"u":3.6,"m":-4.0,"lo":-11.4},
{"t":2044.40,"u":2.6,"m":-5.2,"lo":-12.5},
{"t":2044.70,"u":1.4,"m":-6.3,"lo":-13.7},
{"t":2045.00,"u":0.2,"m":-7.3,"lo":-15.2}
]
},
"vconcat": [
{
 "width": 1600,
 "height": 1300,
 "layer": [
  {
   "data": {"name": "ohlc"},
   "mark": {"type": "rule", "strokeWidth": 1.6},
   "encoding": {
    "x": {"field": "t", "type": "quantitative", "scale": {"domain": [2021, 2045], "nice": false, "zero": false}, "axis": {"orient": "bottom", "labels": false, "ticks": false, "domain": true}},
    "y": {"field": "l", "type": "quantitative", "scale": {"domain": [-30, 70], "nice": false, "zero": false}, "axis": {"orient": "left", "values": [-20, -10, 0, 10, 20, 30, 40, 50, 60, 70], "labelExpr": "datum.value + '%'", "labelAlign": "center", "labelPadding": 79}},
    "y2": {"field": "h"},
    "color": {"condition": {"test": "datum.c > datum.o", "value": "#064a5e"}, "value": "#f3a614"}
   }
  },
  {
   "data": {"name": "ohlc"},
   "mark": {"type": "bar", "size": 8},
   "encoding": {
    "x": {"field": "t", "type": "quantitative"},
    "y": {"field": "o", "type": "quantitative"},
    "y2": {"field": "c"},
    "color": {"condition": {"test": "datum.c > datum.o", "value": "#064a5e"}, "value": "#f3a614"}
   }
  },
  {
   "data": {"name": "bands"},
   "mark": {"type": "area", "color": "#ffffff", "opacity": 0.2},
   "encoding": {
    "x": {"field": "t", "type": "quantitative"},
    "y": {"field": "lo", "type": "quantitative"},
    "y2": {"field": "u"}
   }
  },
  {
   "data": {"name": "bands"},
   "mark": {"type": "line", "color": "#5b7552", "strokeWidth": 5, "strokeJoin": "round"},
   "encoding": {
    "x": {"field": "t", "type": "quantitative"},
    "y": {"field": "u", "type": "quantitative"}
   }
  },
  {
   "data": {"name": "bands"},
   "mark": {"type": "line", "color": "#5b7552", "strokeWidth": 5, "strokeJoin": "round"},
   "encoding": {
    "x": {"field": "t", "type": "quantitative"},
    "y": {"field": "lo", "type": "quantitative"}
   }
  },
  {
   "data": {"name": "bands"},
   "mark": {"type": "line", "color": "#7f9275", "strokeWidth": 5.5, "strokeDash": [6, 11], "strokeCap": "round"},
   "encoding": {
    "x": {"field": "t", "type": "quantitative"},
    "y": {"field": "m", "type": "quantitative"}
   }
  },
  {
   "mark": {"type": "rule", "color": "#000000", "strokeWidth": 10, "strokeCap": "round"},
   "encoding": {
    "x": {"datum": 2045, "type": "quantitative"},
    "y": {"datum": -30, "type": "quantitative"},
    "y2": {"datum": 70}
   }
  }
 ]
},
{
 "width": 1600,
 "height": 200,
 "layer": [
  {
   "data": {"name": "ohlc"},
   "mark": {"type": "bar", "size": 4, "color": "#064a5e"},
   "encoding": {
    "x": {"field": "t", "type": "quantitative", "scale": {"domain": [2021, 2045], "nice": false, "zero": false}, "axis": {"orient": "bottom", "values": [2021, 2024, 2027, 2030, 2033, 2036, 2039, 2042, 2045], "format": "d", "labelPadding": 12, "tickOpacity": {"condition": {"test": "datum.value == 2021 || datum.value == 2045", "value": 0}, "value": 1}}},
    "y": {"field": "v", "type": "quantitative", "scale": {"domain": [0, 200], "nice": false}, "axis": {"orient": "left", "labels": false, "ticks": false, "domain": true}}
   }
  },
  {
   "mark": {"type": "rule", "color": "#000000", "strokeWidth": 10, "strokeCap": "round"},
   "encoding": {
    "x": {"datum": 2045, "type": "quantitative"},
    "y": {"datum": 0, "type": "quantitative"},
    "y2": {"datum": 200}
   }
  }
 ]
}
]
}
